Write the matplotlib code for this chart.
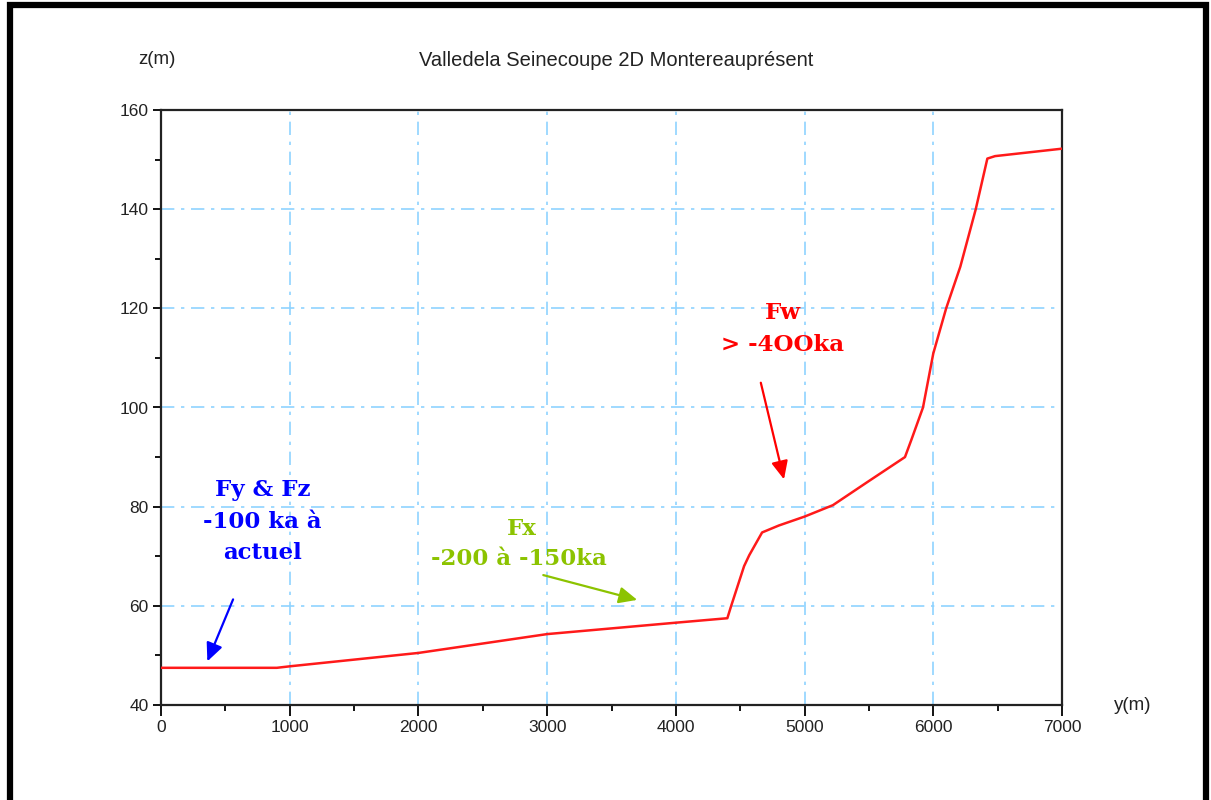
import matplotlib
matplotlib.use("Agg")
import matplotlib.pyplot as plt
from matplotlib.patches import Rectangle
from matplotlib.ticker import MultipleLocator

# Data
y_dist = [0, 900, 1000, 2000, 3000, 4000, 4400, 4430, 4530, 4570, 4670, 4800,
          5000, 5220, 5490, 5780, 5830, 5920, 6000, 6100, 6210, 6330, 6420, 6480, 7000]
z_elev = [47.5, 47.5, 47.8, 50.5, 54.3, 56.6, 57.5, 60.0, 68.0, 70.2, 74.8, 76.2,
          78.0, 80.3, 85.0, 90.0, 93.5, 100.0, 110.9, 120.0, 128.4, 140.0, 150.2, 150.7, 152.2]

x_ticks = [0, 1000, 2000, 3000, 4000, 5000, 6000, 7000]
z_ticks = [40, 60, 80, 100, 120, 140, 160]

title = "Valledela Seinecoupe 2D Montereauprésent"
xlabel = "y(m)"
ylabel = "z(m)"

ann_blue = "Fy & Fz\n-100 ka à\nactuel"
ann_green_1 = "Fx"
ann_green_2 = "-200 à -150ka"
ann_red = "Fw\n> -4OOka"

W, H = 1211, 800
fig = plt.figure(figsize=(W / 100, H / 100), dpi=100)
fig.patch.set_facecolor("white")

# outer black frame
fig.patches.append(Rectangle((10 / W, -0.05), (1206 - 10) / W, (H - 5) / H + 0.05,
                             transform=fig.transFigure, fill=False,
                             edgecolor="black", linewidth=4.5))

ax = fig.add_axes([161 / W, 1 - 705 / H, (1062 - 161) / W, (705 - 110) / H])
ax.plot(y_dist, z_elev, color="#ff1a1a", linewidth=1.8, zorder=3)

ax.set_xlim(0, 7000)
ax.set_ylim(40, 160)
ax.set_xticks(x_ticks)
ax.set_yticks(z_ticks)
ax.xaxis.set_minor_locator(MultipleLocator(500))
ax.yaxis.set_minor_locator(MultipleLocator(10))

tick_font = dict(family="Liberation Sans", size=12.5)
ax.set_xticklabels([str(v) for v in x_ticks], **tick_font)
ax.set_yticklabels([str(v) for v in z_ticks], **tick_font)
ax.tick_params(axis="both", which="major", direction="out", length=6, width=1.3,
               color="black", pad=3, labelcolor="#222222")
ax.tick_params(axis="both", which="minor", direction="out", length=4, width=1.3,
               color="black")
ax.tick_params(axis="x", which="major", length=8)
for s in ax.spines.values():
    s.set_linewidth(1.6)
    s.set_color("#222222")

# grid (interior only)
for gx in x_ticks[1:-1]:
    ax.axvline(gx, color="#8fd3ff", linestyle=(0, (8, 4, 2, 4)), linewidth=1.2, zorder=1)
for gz in z_ticks[1:-1]:
    ax.axhline(gz, color="#8fd3ff", linestyle=(0, (8, 4, 2, 4)), linewidth=1.2, zorder=1)

label_font = dict(family="Liberation Sans", size=13.5, color="#222222")
fig.text(616 / W, 1 - 60 / H, title, ha="center", va="center",
         family="Liberation Sans", size=14.5, color="#222222")
fig.text(157 / W, 1 - 60 / H, ylabel, ha="center", va="center", **label_font)
fig.text(1133 / W, 1 - 705 / H, xlabel, ha="center", va="center", **label_font)

ann_font = dict(family="DejaVu Serif", weight="bold", size=16.5)

# blue annotation
ax.text(0.1125, 0.308, ann_blue, transform=ax.transAxes, ha="center", va="center",
        color="#0000ff", linespacing=1.55, **ann_font)
ax.annotate("", xy=(360, 48.8), xytext=(560, 61.3),
            arrowprops=dict(arrowstyle="-|>,head_length=1.1,head_width=0.5",
                            color="#0000ff", lw=1.6, shrinkA=0, shrinkB=0))

# green annotation
ax.text(2800, 75.4, ann_green_1, ha="center", va="center", color="#8cc300", **ann_font)
ax.text(2780, 69.4, ann_green_2, ha="center", va="center", color="#8cc300", **ann_font)
ax.annotate("", xy=(3700, 61.2), xytext=(2970, 66.2),
            arrowprops=dict(arrowstyle="-|>,head_length=1.1,head_width=0.5",
                            color="#8cc300", lw=1.6, shrinkA=0, shrinkB=0))

# red annotation
ax.text(4830, 115.8, ann_red, ha="center", va="center", color="#ff0000",
        linespacing=1.55, **ann_font)
ax.annotate("", xy=(4840, 85.5), xytext=(4660, 105.0),
            arrowprops=dict(arrowstyle="-|>,head_length=1.1,head_width=0.5",
                            color="#ff0000", lw=1.6, shrinkA=0, shrinkB=0))

fig.savefig("out.png", dpi=100, facecolor="white")
